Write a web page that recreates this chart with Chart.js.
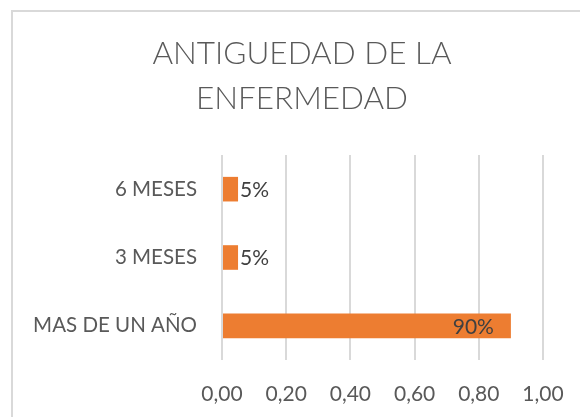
<!DOCTYPE html>
<html>
<head>
<meta charset="utf-8">
<script src="https://cdn.jsdelivr.net/npm/chart.js@4/dist/chart.umd.min.js"></script>
<style>
  html, body { margin: 0; padding: 0; background: #fff; overflow: hidden; }
  #frame { position: absolute; left: 11px; top: 10px; width: 620px; height: 460px; border: 2px solid #d9d9d9; }
  #chart { position: absolute; left: 0; top: 0; }
</style>
</head>
<body>
<div id="frame"></div>
<canvas id="chart" width="580" height="417"></canvas>
<script>
// Chart data
const titleLines = ["ANTIGUEDAD DE LA", "ENFERMEDAD"];
const categories = ["6 MESES", "3 MESES", "MAS DE UN AÑO"];
const shares = [0.05, 0.05, 0.9];
const xTicks = [0, 0.2, 0.4, 0.6, 0.8, 1.0];

const TEXT = "#595959";
const LABEL = "#404040";
const GRID = "#d9d9d9";
const ORANGE = "#ED7D31";
const FONT = "Lato";

/**
 * Title centred on the original (wider, cropped) Excel chart box, not on the plot
 */
const boxTitle = {
  id: "boxTitle",
  beforeDraw(chart) {
    const ctx = chart.ctx;
    ctx.save();
    ctx.font = `300 31.5px ${FONT}`;
    ctx.fillStyle = TEXT;
    ctx.textAlign = "center";
    ctx.textBaseline = "middle";
    titleLines.forEach((line, i) => {
      ctx.fillText(line, 302, 54 + i * 45);
    });
    ctx.restore();
  },
};

/**
 * Draws the percentage next to (small bars) or inside the end of (long bars) each bar
 */
const barLabels = {
  id: "barLabels",
  afterDatasetsDraw(chart) {
    const ctx = chart.ctx;
    const meta = chart.getDatasetMeta(0);
    ctx.save();
    ctx.font = `21px ${FONT}`;
    ctx.fillStyle = LABEL;
    ctx.textBaseline = "middle";
    meta.data.forEach((bar, i) => {
      const { x, y, base } = bar.getProps(["x", "y", "base"], true);
      const text = Math.round(shares[i] * 100) + "%";
      if (x - base > 60) {
        ctx.textAlign = "right";
        ctx.fillText(text, x - 17, y + 1);
      } else {
        ctx.textAlign = "left";
        ctx.fillText(text, x + 2, y + 1);
      }
    });
    ctx.restore();
  },
};

function draw() {
  const ctx = document.getElementById("chart").getContext("2d");

  new Chart(ctx, {
    type: "bar",
    data: {
      labels: categories,
      datasets: [
        {
          data: shares,
          backgroundColor: ORANGE,
          borderWidth: 0,
          barPercentage: 0.36,
          categoryPercentage: 1,
        },
      ],
    },
    options: {
      indexAxis: "y",
      responsive: false,
      animation: false,
      devicePixelRatio: 1,
      layout: { padding: { left: 0, right: 37, top: 155, bottom: 0 } },
      plugins: {
        legend: { display: false },
        tooltip: { enabled: false },
        title: { display: false },
      },
      scales: {
        x: {
          min: 0,
          max: 1,
          afterBuildTicks: (axis) => {
            axis.ticks = xTicks.map((v) => ({ value: v }));
          },
          afterFit: (axis) => {
            axis.height = 57;
            // let the layout padding alone decide the right edge
            axis.paddingLeft = 0;
            axis.paddingRight = 0;
          },
          grid: { color: GRID, lineWidth: 2, drawTicks: false },
          border: { display: false },
          ticks: {
            color: TEXT,
            font: { family: FONT, size: 21 },
            padding: 22,
            callback: (v) => Number(v).toFixed(2).replace(".", ","),
          },
        },
        y: {
          afterFit: (axis) => {
            axis.width = 222;
          },
          grid: { display: false },
          border: { display: false },
          ticks: {
            color: TEXT,
            font: { family: FONT, size: 20.5 },
            padding: 17,
          },
        },
      },
    },
    plugins: [boxTitle, barLabels],
  });
}

Promise.all([
  document.fonts.load(`300 32px ${FONT}`),
  document.fonts.load(`21px ${FONT}`),
]).then(draw, draw);
</script>
</body>
</html>
